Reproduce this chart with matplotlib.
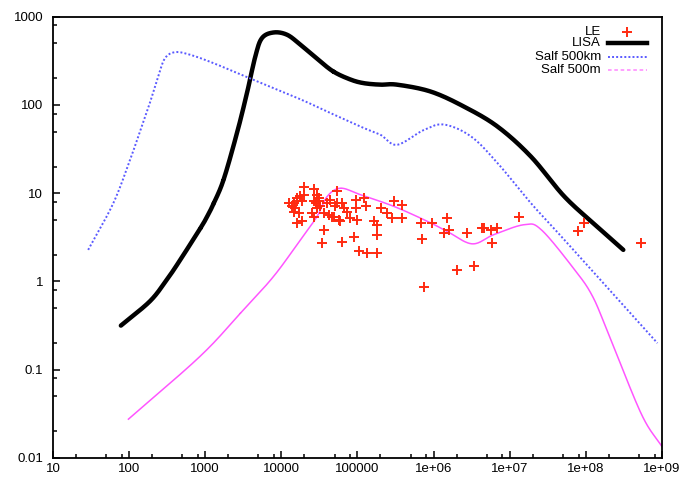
import numpy as np
import matplotlib
matplotlib.use("Agg")
import matplotlib.pyplot as plt
from matplotlib.ticker import LogLocator, FixedFormatter, FixedLocator, NullFormatter

plt.rcParams['font.family'] = ['Liberation Sans', 'DejaVu Sans']

# LISA sensitivity curve
lisa_x = [78, 189, 313, 446, 859, 1050, 1285, 1740, 2610, 3530, 4550, 5560, 7920,
          11900, 17800, 30000, 48000, 80000, 120000, 200000, 331000, 915000,
          2.5e6, 6.9e6, 1.9e7, 5.2e7, 1.4e8, 3.1e8]
lisa_y = [0.316, 0.60, 1.05, 1.64, 3.98, 5.37, 7.6, 14.2, 48, 136, 355, 573, 664,
          625, 482, 330, 240, 195, 177, 170, 170, 142,
          96, 57, 26, 9.2, 4.2, 2.28]

# Salf 500km
km_x = [29, 62, 103, 139, 189, 243, 297, 403, 634, 1285, 4110, 17800, 44200,
        120000, 200000, 330000, 740000, 1.37e6, 3.1e6, 6.9e6, 1.9e7, 5.2e7, 8.7e8]
km_y = [2.28, 7.7, 24, 50, 108, 215, 340, 397, 371, 298, 196, 116, 81,
        55, 46, 35.4, 52, 60, 44, 22, 7.7, 2.97, 0.2]

# Salf 500m
m_x = [98, 850, 2900, 7900, 17800, 29400, 40000, 60000, 110000,
       300000, 830000, 1.5e6, 3.2e6, 6.2e6, 1.55e7, 2.6e7, 7.1e7, 1.2e8,
       1.9e8, 5.3e8, 1e9]
m_y = [0.0275, 0.141, 0.437, 1.14, 2.97, 5.45, 9.2, 11.4, 9.6,
       7.1, 4.8, 3.7, 2.67, 3.4, 4.4, 3.85, 1.36, 0.7, 0.28, 0.032, 0.0134]

# LE events
le_x = [19700, 26700, 12500, 14600, 16100, 17800, 19700, 15300, 16900, 16100,
        13800, 18700, 16100, 29500, 31000, 28100, 29500, 26700, 32600, 36100,
        25400, 54000, 44200, 54000, 63000, 51400, 42000, 48900, 56900, 59800,
        66100, 73100, 94200, 121000, 94200, 128000, 80900, 99100, 164000, 182000,
        201000, 246000, 301000, 387000, 286000, 387000, 675000, 961000, 1.51e6, 1.59e6,
        1.37e6, 2.77e6, 4.37e6, 5.6e6, 6.9e6, 5.9e6, 36100, 34300, 63000, 89500,
        182000, 104000, 134000, 182000, 710000, 2.05e6, 3.4e6, 746000, 1.33e7, 18700,
        14600, 26700, 31000, 46400, 39900, 4.6e6, 7.8e7, 9.5e7, 5.3e8]
le_y = [11.9, 11.2, 7.7, 7.7, 8.1, 9.2, 9.6, 6.8, 5.9, 8.8,
        7.1, 4.8, 4.6, 9.6, 8.1, 7.7, 6.8, 5.4, 7.1, 5.9,
        5.9, 10.5, 8.4, 7.7, 7.7, 7.1, 5.7, 5.4, 5.0, 4.8,
        6.8, 6.2, 8.4, 8.8, 6.8, 7.1, 5.2, 5.0, 4.8, 4.4,
        6.8, 5.9, 8.1, 7.4, 5.2, 5.2, 4.6, 4.6, 5.2, 3.85,
        3.5, 3.5, 4.0, 3.85, 4.0, 2.7, 3.85, 2.7, 2.8, 3.2,
        3.4, 2.2, 2.1, 2.1, 3.0, 1.35, 1.48, 0.87, 5.4, 8.1,
        6.2, 8.1, 8.8, 5.4, 7.7, 4.0, 3.7, 4.6, 2.7]

x_ticks = [10, 100, 1000, 1e4, 1e5, 1e6, 1e7, 1e8, 1e9]
x_labels = ['10', '100', '1000', '10000', '100000', '1e+06', '1e+07', '1e+08', '1e+09']
y_ticks = [0.01, 0.1, 1, 10, 100, 1000]
y_labels = ['0.01', '0.1', '1', '10', '100', '1000']


def spline(xs, ys, n=30):
    # Catmull-Rom through the points, done in log-log space
    p = np.column_stack([np.log10(xs), np.log10(ys)])
    p = np.vstack([2 * p[0] - p[1], p, 2 * p[-1] - p[-2]])
    out = []
    t = np.linspace(0, 1, n)[:, None]
    for i in range(1, len(p) - 2):
        p0, p1, p2, p3 = p[i - 1], p[i], p[i + 1], p[i + 2]
        seg = 0.5 * (2 * p1 + (-p0 + p2) * t + (2 * p0 - 5 * p1 + 4 * p2 - p3) * t ** 2
                     + (-p0 + 3 * p1 - 3 * p2 + p3) * t ** 3)
        out.append(seg)
    out = np.vstack(out)
    return 10 ** out[:, 0], 10 ** out[:, 1]


fig = plt.figure(figsize=(6.79, 4.79), dpi=100)
ax = fig.add_axes([0.078, 0.044, 0.897, 0.921])

le_color = '#ff2a10'
lisa_color = 'black'
km_color = '#5a5aff'
m_color = '#ff55ff'

ax.plot(le_x, le_y, '+', color=le_color, ms=7, mew=1.4, zorder=5)
sx, sy = spline(lisa_x, lisa_y)
ax.plot(sx, sy, color=lisa_color, lw=3.2, solid_capstyle='round')
sx, sy = spline(km_x, km_y)
ax.plot(sx, sy, color=km_color, lw=1.4, ls=(0, (1, 1.1)))
sx, sy = spline(m_x, m_y)
ax.plot(sx, sy, color=m_color, lw=1.1)

ax.set_xscale('log')
ax.set_yscale('log')
ax.set_xlim(10, 1e9)
ax.set_ylim(0.01, 1000)

ax.xaxis.set_major_locator(FixedLocator(x_ticks))
ax.xaxis.set_major_formatter(FixedFormatter(x_labels))
ax.yaxis.set_major_locator(FixedLocator(y_ticks))
ax.yaxis.set_major_formatter(FixedFormatter(y_labels))
ax.xaxis.set_minor_locator(LogLocator(base=10, subs=(2, 5, 8), numticks=20))
ax.yaxis.set_minor_locator(LogLocator(base=10, subs=(2, 5, 8), numticks=20))
ax.xaxis.set_minor_formatter(NullFormatter())
ax.yaxis.set_minor_formatter(NullFormatter())

ax.tick_params(which='both', direction='in', top=False, right=False, width=1.1, labelsize=9.5)
ax.tick_params(which='major', length=5)
ax.tick_params(which='minor', length=3)
ax.tick_params(axis='y', pad=7)
ax.tick_params(axis='x', pad=4)
for s in ax.spines.values():
    s.set_linewidth(1.3)

# legend, gnuplot style: labels right aligned, sample to the right
entries = [('LE', dict(ls='none', marker='+', color=le_color, ms=7, mew=1.4)),
           ('LISA', dict(color=lisa_color, lw=3.2)),
           ('Salf 500km', dict(color=km_color, lw=1.4, ls=(0, (1, 1.1)))),
           ('Salf 500m', dict(color=m_color, lw=1.3, ls=(0, (2, 1.5)), alpha=0.6))]
ys = [0.966, 0.941, 0.909, 0.880]
for (lab, kw), yy in zip(entries, ys):
    ax.text(0.900, yy, lab, transform=ax.transAxes, ha='right', va='center', fontsize=9.5)
    if kw.get('marker'):
        ax.plot([0.943], [yy], transform=ax.transAxes, **kw)
    else:
        ax.plot([0.911, 0.975], [yy, yy], transform=ax.transAxes, **kw)

fig.savefig('out.png', dpi=100)
